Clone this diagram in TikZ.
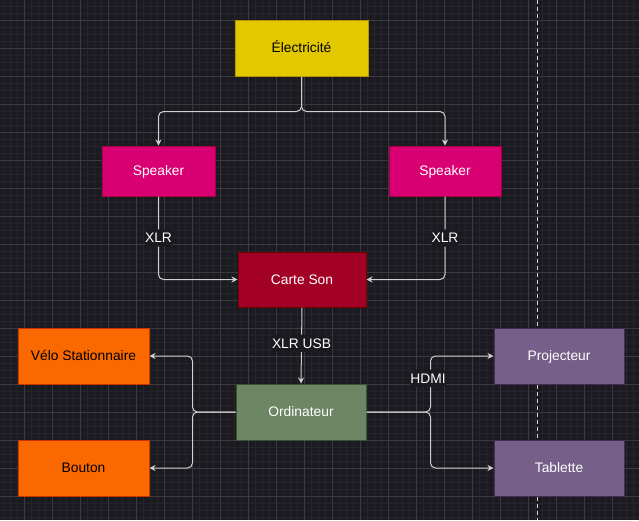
\documentclass[tikz,border=0pt]{standalone}
\usepackage{fontspec}
\setmainfont{Liberation Sans}
\usetikzlibrary{arrows.meta}
\definecolor{bg}{HTML}{1B1A20}
\definecolor{gridminor}{HTML}{25242A}
\definecolor{gridmajor}{HTML}{3A393F}
\definecolor{linec}{HTML}{D0D0D0}
\definecolor{yelF}{HTML}{E3C800}\definecolor{yelS}{HTML}{B09500}
\definecolor{pinkF}{HTML}{D80073}\definecolor{pinkS}{HTML}{A50040}
\definecolor{crimF}{HTML}{A20025}\definecolor{crimS}{HTML}{6F0000}
\definecolor{oraF}{HTML}{FA6800}\definecolor{oraS}{HTML}{C73500}
\definecolor{greF}{HTML}{6D8764}\definecolor{greS}{HTML}{3A5431}
\definecolor{vioF}{HTML}{76608A}\definecolor{vioS}{HTML}{432D57}
\tikzset{
  box/.style={draw, line width=1pt, rectangle, inner sep=0pt, align=center,
    text height=12.5pt, text depth=2.9pt,
    font=\fontsize{13.8}{16}\selectfont},
  conn/.style={draw=linec, line width=1pt, rounded corners=5pt,
    -{Stealth[length=6pt,width=6pt,inset=2pt]}},
  lbl/.style={fill=bg, inner sep=1pt, text=white, text height=12.5pt, text depth=2.9pt,
    font=\fontsize{13.8}{16}\selectfont}
}
\begin{document}
\begin{tikzpicture}[x=1pt,y=-1pt]
\fill[bg] (0,0) rectangle (639,520);
\useasboundingbox (0,0) rectangle (639,520);
% grid
\foreach \gx in {3,10,...,639} \draw[gridminor, line width=0.6pt] (\gx,0) -- (\gx,520);
\foreach \gy in {6,13,...,520} \draw[gridminor, line width=0.6pt] (0,\gy) -- (639,\gy);
\foreach \gx in {24,52,...,639} \draw[gridmajor, line width=0.9pt] (\gx,0) -- (\gx,520);
\foreach \gy in {20,48,...,520} \draw[gridmajor, line width=0.9pt] (0,\gy) -- (639,\gy);
% dashed separator
\draw[white!85!black, line width=1pt, dash pattern=on 4pt off 3pt] (537,0) -- (537,520);

% nodes
\node[box, fill=yelF, draw=yelS, text=black, minimum width=133pt, minimum height=56pt] (elec) at (301.5,48) {Électricité};
\node[box, fill=pinkF, draw=pinkS, text=white, minimum width=113pt, minimum height=50pt] (spkL) at (158.5,171) {Speaker};
\node[box, fill=pinkF, draw=pinkS, text=white, minimum width=112pt, minimum height=50pt] (spkR) at (445,171) {Speaker};
\node[box, fill=crimF, draw=crimS, text=white, minimum width=128pt, minimum height=55pt] (carte) at (302,279.5) {Carte Son};
\node[box, fill=oraF, draw=oraS, text=black, minimum width=131pt, minimum height=56pt] (velo) at (83.5,356) {Vélo Stationnaire};
\node[box, fill=oraF, draw=oraS, text=black, minimum width=131pt, minimum height=56pt] (bouton) at (83.5,468) {Bouton};
\node[box, fill=greF, draw=greS, text=white, minimum width=130pt, minimum height=56pt] (ordi) at (301,412) {Ordinateur};
\node[box, fill=vioF, draw=vioS, text=white, minimum width=130pt, minimum height=56pt] (proj) at (559,356) {Projecteur};
\node[box, fill=vioF, draw=vioS, text=white, minimum width=130pt, minimum height=56pt] (tab) at (559,468) {Tablette};

% connectors
\draw[conn] (elec.south) -- ++(0,35) -| (spkL.north);
\draw[conn] (elec.south) -- ++(0,35) -| (spkR.north);
\draw[conn] (spkL.south) |- node[lbl, pos=0.25] {XLR} (carte.west);
\draw[conn] (spkR.south) |- node[lbl, pos=0.25] {XLR} (carte.east);
\draw[conn] (carte.south) -- node[lbl, pos=0.47] {XLR USB} (ordi.north);
\draw[conn] (ordi.west) -- ++(-43,0) |- (velo.east);
\draw[conn] (ordi.west) -- ++(-43,0) |- (bouton.east);
\draw[conn] (ordi.east) -- ++(64,0) |- node[lbl, pos=0.3, xshift=-2.5pt] {HDMI} (proj.west);
\draw[conn] (ordi.east) -- ++(64,0) |- (tab.west);
\end{tikzpicture}
\end{document}
